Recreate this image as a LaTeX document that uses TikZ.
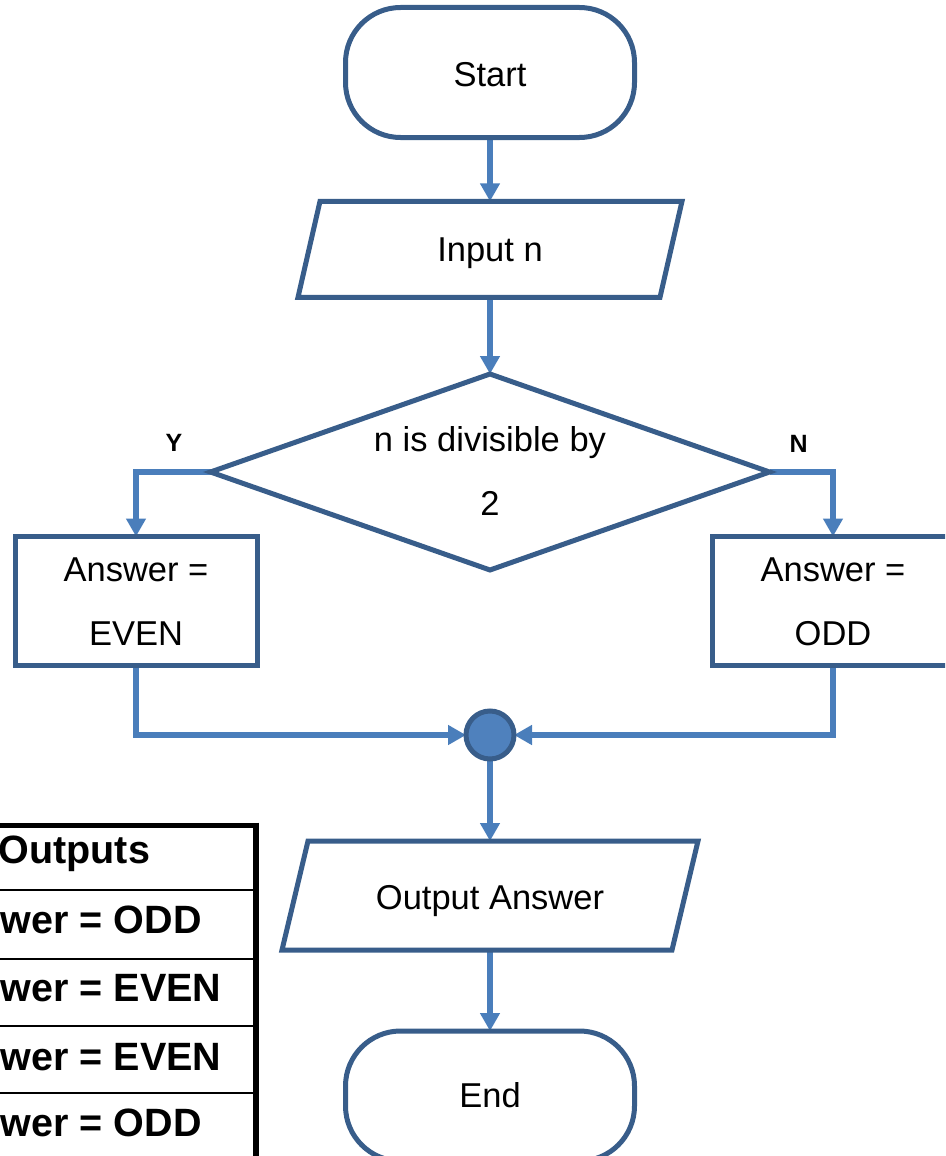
\documentclass[tikz,border=0pt]{standalone}
\usepackage{fontspec}
\setmainfont{Liberation Sans}
\usetikzlibrary{shapes.geometric,arrows.meta,calc}
\definecolor{edgeblue}{RGB}{56,93,138}
\definecolor{flowblue}{RGB}{74,126,187}
\definecolor{dotblue}{RGB}{79,129,189}
\pgfdeclarelayer{background}
\pgfsetlayers{background,main}

\begin{document}
\begin{tikzpicture}[x=1pt,y=-1pt,
  outline/.style={draw=edgeblue,line width=5pt,fill=white,inner sep=0pt,outer sep=0pt},
  term/.style={outline,rectangle,rounded corners=55pt,minimum width=289pt,minimum height=130pt},
  frame/.style={rectangle,inner sep=0pt,outer sep=0pt},
  procbox/.style={outline,rectangle,minimum width=242pt,minimum height=129pt},
  decision/.style={outline,diamond,minimum width=559pt,minimum height=196pt},
  joint/.style={circle,draw=edgeblue,fill=dotblue,line width=5pt,minimum size=48pt,inner sep=0pt,outer sep=0pt},
  flow/.style={draw=flowblue,line width=5.5pt,-{Triangle[width=19pt,length=18pt]}},
  txt/.style={font=\fontsize{34.5}{40}\selectfont,anchor=base,inner sep=0pt},
  yn/.style={font=\fontsize{25}{30}\selectfont\bfseries,anchor=base,inner sep=0pt},
  cell/.style={font=\fontsize{39.5}{46}\selectfont\bfseries,anchor=base west,inner sep=0pt},
  rule/.style={draw=black,line width=2pt},
  heavyrule/.style={draw=black,line width=5pt},
]
\useasboundingbox (0,0) rectangle (945,1156);
\clip (0,0) rectangle (945,1156);

% ---- flowchart shapes ----
\node[term] (start) at (490,72.5) {};
\node[frame,minimum width=384pt,minimum height=96pt] (input) at (490,249.3) {};
\node[decision] (test) at (490,472) {};
\node[procbox] (even) at (136,601) {};
\node[procbox] (odd) at (833,601) {};
\node[joint] (merge) at (490,735) {};
\node[frame,minimum width=416pt,minimum height=109pt] (output) at (490,895.5) {};
\node[term] (finish) at (490,1096) {};

% ---- connectors, kept under the shapes ----
\begin{pgfonlayer}{background}
  \draw[flow] (start.south) -- (input.north);
  \draw[flow] (input.south) -- (test.north);
  \draw[flow] (test.west) -| (even.north);
  \draw[flow] (test.east) -| (odd.north);
  \draw[flow] (even.south) |- (merge.west);
  \draw[flow] (odd.south) |- (merge.east);
  \draw[flow] (merge.south) -- (output.north);
  \draw[flow] (output.south) -- (finish.north);
\end{pgfonlayer}

% ---- input / output parallelograms ----
\draw[outline] ($(input.north west)+(22,0)$) -- (input.north east)
  -- ($(input.south east)+(-22,0)$) -- (input.south west) -- cycle;
\draw[outline] ($(output.north west)+(26,0)$) -- (output.north east)
  -- ($(output.south east)+(-26,0)$) -- (output.south west) -- cycle;

% ---- labels ----
\node[txt] (startT) at (490,86) {Start};
\node[txt] (inputT) at (490,261.7) {Input n};
\node[txt] (testA) at (490,451.7) {n is divisible by};
\node[txt] (testB) at (490,515) {2};
\node[txt] (evenA) at (136,581) {Answer =};
\node[txt] (evenB) at (136,645) {EVEN};
\node[txt] (oddA) at (833,581) {Answer =};
\node[txt] (oddB) at (833,645) {ODD};
\node[txt] (outputT) at (490,909) {Output Answer};
\node[txt] (finishT) at (490,1107.3) {End};
\node[yn] (ylab) at (174,451.7) {Y};
\node[yn] (nlab) at (798.7,452.3) {N};

% ---- results table ----
\draw[heavyrule] (-10,825) -- (256,825);
\draw[rule] (-10,890) -- (256,890);
\draw[rule] (-10,959) -- (256,959);
\draw[rule] (-10,1026) -- (256,1026);
\draw[rule] (-10,1093) -- (256,1093);
\draw[draw=black,line width=6.5pt] (256,822.5) -- (256,1170);
\node[cell] (head) at (-1.5,863) {Outputs};
\node[cell] (row1) at (-74,933) {Answer = ODD};
\node[cell] (row2) at (-74,1001.7) {Answer = EVEN};
\node[cell] (row3) at (-74,1070) {Answer = EVEN};
\node[cell] (row4) at (-74,1136.7) {Answer = ODD};
\end{tikzpicture}
\end{document}
